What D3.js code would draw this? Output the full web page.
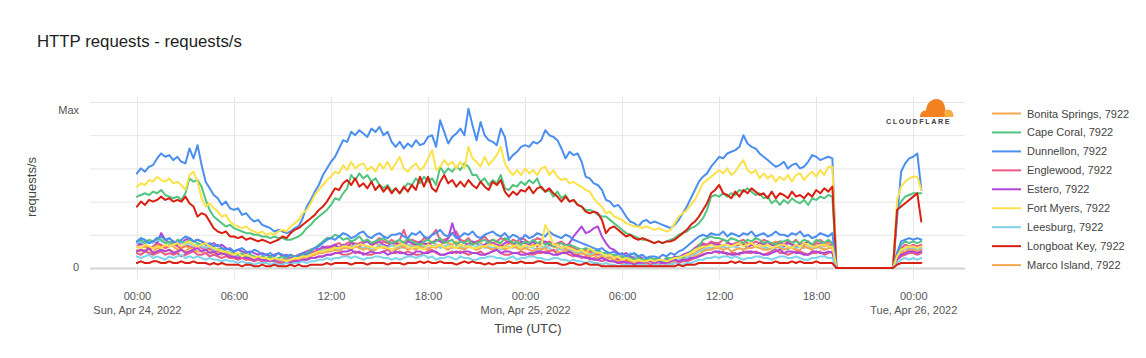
<!DOCTYPE html>
<html><head><meta charset="utf-8">
<script src="https://cdn.jsdelivr.net/npm/d3@7"></script>
<style>body{margin:0;background:#fff}svg{display:block;font-family:Arial,"Liberation Sans",Helvetica,sans-serif}</style>
</head><body><svg id="chart" width="1146" height="358"></svg>
<script>
// ---------- DATA ----------
const titleText = "HTTP requests - requests/s";
const yAxisTitle = "requests/s";
const xAxisTitle = "Time (UTC)";
const startTime = "2022-04-24T00:00:00Z";
const stepMinutes = 15;   // one sample every 15 minutes from startTime

const xTickTimes = ["2022-04-24T00:00:00Z","2022-04-24T06:00:00Z","2022-04-24T12:00:00Z","2022-04-24T18:00:00Z",
  "2022-04-25T00:00:00Z","2022-04-25T06:00:00Z","2022-04-25T12:00:00Z","2022-04-25T18:00:00Z","2022-04-26T00:00:00Z"];
const xTickLabels = ["00:00","06:00","12:00","18:00","00:00","06:00","12:00","18:00","00:00"];
const xDateLabels = ["Sun, Apr 24, 2022","","","","Mon, Apr 25, 2022","","","","Tue, Apr 26, 2022"];
const yGridValues = [0,20,40,60,80,100];
const yTickValues = [0,100];
const yTickLabels = ["0","Max"];

const seriesNames = ["Bonita Springs, 7922","Cape Coral, 7922","Dunnellon, 7922","Englewood, 7922","Estero, 7922",
  "Fort Myers, 7922","Leesburg, 7922","Longboat Key, 7922","Marco Island, 7922",
  "series 10","series 11","series 12","series 13","series 14","series 15","series 16"];
const seriesColors = ["#f8a64c","#52c47f","#4a8ff0","#ec5a86","#b046d8","#fce24a","#7fd3ea","#d91f12","#f6a64f",
  "#52c47f","#4a8ff0","#ec5a86","#b046d8","#fce24a","#7fd3ea","#d91f12"];
const legendCount = 9;

// values as % of Max, 15-minute samples from 2022-04-24 00:00 UTC
const dunnellon = [57,60,58,61,62,66,69,67,68,65,67,64,63,72,66,74,62,52,48,44,42,38,40,36,35,36,32,33,30,28,29,26,
25,24,22,23,22,21,22,24,25,30,37,41,46,50,56,60,64,67,72,77,76,82,80,83,81,79,84,82,85,80,82,76,
73,76,72,75,73,77,74,75,79,80,73,89,82,75,79,81,84,80,96,86,77,88,80,77,76,74,84,79,65,68,70,73,
74,73,76,75,77,83,80,79,77,72,66,70,68,69,64,55,54,51,50,47,41,40,37,38,35,31,28,27,25,28,29,27,
28,27,26,25,24,26,29,33,37,42,47,52,55,57,61,64,67,66,69,70,71,73,80,75,73,72,69,67,65,63,61,62,
64,60,62,63,60,61,64,68,67,65,66,67,66,0,0,0,0,0,0,0,0,0,0,0,0,0,0,0,30,58,63,66,67,69,47];
const fortMyers = [49,51,50,53,52,55,53,52,54,51,52,50,47,56,58,52,42,37,39,36,34,31,32,28,26,25,24,25,23,22,21,22,
20,21,20,22,23,22,25,27,29,33,35,39,44,47,50,53,55,58,57,62,59,64,60,62,63,59,61,58,63,60,64,59,
63,67,60,58,61,63,59,61,66,71,59,61,65,62,64,60,64,60,73,66,64,61,67,62,65,68,73,63,59,56,59,56,
60,57,59,56,60,61,56,59,55,53,54,51,52,50,49,47,46,42,39,37,33,34,31,30,29,27,26,25,25,24,25,24,
23,24,23,22,23,27,31,33,35,38,41,46,51,53,55,57,59,57,60,56,58,62,65,59,57,59,54,57,54,56,52,55,
53,56,52,56,57,53,56,58,55,59,56,61,61,0,0,0,0,0,0,0,0,0,0,0,0,0,0,0,41,49,52,54,55,55,47];
const capeCoral = [43,44,45,44,46,45,47,44,43,42,43,41,45,54,52,53,49,41,35,31,29,27,25,26,24,23,22,21,21,20,20,19,
19,18,19,18,18,17,17,18,19,21,24,26,29,31,33,35,38,42,41,45,48,56,53,57,54,56,52,54,50,48,50,46,
48,45,48,51,50,54,51,55,52,54,50,61,57,60,58,61,59,63,61,56,56,52,54,50,53,51,56,48,47,50,49,52,
50,53,51,54,48,46,47,43,46,42,44,40,41,38,37,35,35,34,32,31,31,29,27,25,23,21,20,19,18,17,17,16,
15,16,15,16,17,18,20,21,22,24,25,27,30,35,43,44,43,45,43,45,44,47,46,48,46,44,45,42,43,39,41,38,
41,39,42,40,39,41,38,42,41,43,42,44,43,0,0,0,0,0,0,0,0,0,0,0,0,0,0,0,35,40,43,44,45,45,45];
const longboatKey = [37,40,38,41,40,41,43,41,42,40,41,40,43,39,37,31,33,32,28,24,22,21,22,19,19,18,19,17,18,17,16,17,
16,15,16,17,19,18,21,23,24,26,28,30,32,35,37,40,44,48,47,51,53,50,54,49,51,48,52,47,50,46,49,45,
48,45,49,46,50,47,55,49,55,48,46,52,56,51,53,49,52,49,53,50,48,52,49,47,52,50,53,46,43,46,44,47,
46,49,45,48,49,46,48,45,43,40,43,40,41,38,37,34,33,34,33,29,21,24,25,23,21,19,20,18,17,18,17,16,
15,16,15,16,16,17,19,21,23,26,28,31,35,39,45,47,50,45,44,42,46,43,47,45,48,46,44,45,42,46,42,45,
44,42,46,43,44,42,45,43,47,45,48,46,49,0,0,0,0,0,0,0,0,0,0,0,0,0,0,0,35,37,39,41,43,45,28];

const bonitaSprings = [
13,12,13,11,12,14,13,12,14,13,11,12,13,12,13,14, 12,13,11,12,11,10,10,9,9,8,7,8,7,6,7,6,
6,5,6,5,4,5,6,5,6,7,8,9,10,11,12,11, 12,13,12,14,14,13,15,13,14,12,13,15,14,16,15,14,
14,15,16,13,14,13,15,14,15,16,14,13,16,15,14,16, 14,13,15,14,16,15,13,14,15,16,14,13,15,14,13,15,
15,13,14,15,13,12,14,13,12,11,12,10,11,10,9,10, 9,8,9,7,7,6,6,5,5,4,5,4,4,3,4,5,
4,5,3,4,5,4,6,5,6,8,9,11,12,13,14,15, 14,13,15,14,13,14,15,14,15,13,14,12,14,15,16,14,
14,16,15,13,14,13,12,14,15,14,13,15,13,0,0,0, 0,0,0,0,0,0,0,0,0,0,0,0,7,11,12,13, 13,12,13];
const englewood = [
13,15,14,12,13,15,14,12,13,15,13,12,14,13,12,14, 12,11,12,10,10,9,9,8,8,7,7,6,7,6,6,5,
6,5,6,4,5,6,5,6,7,6,8,9,10,11,12,13, 13,14,15,13,15,16,14,15,16,17,15,16,18,16,15,17,
15,17,23,16,17,16,15,18,17,20,23,16,17,18,21,22, 17,16,18,15,16,17,19,16,17,16,18,17,15,17,16,18,
17,15,16,18,17,15,16,14,15,16,14,13,12,11,10,11, 10,9,8,9,7,6,7,5,6,5,4,5,4,5,4,6,
4,5,3,5,4,6,5,7,8,10,12,14,15,14,16,15, 15,17,16,14,15,16,17,15,14,16,15,17,16,14,15,16,
14,16,15,17,14,15,16,14,15,17,15,16,15,0,0,0, 0,0,0,0,0,0,0,0,0,0,0,0,7,12,14,13, 14,13,14];
const estero = [
15,14,16,15,16,15,21,17,15,16,14,15,17,18,16,17, 16,15,14,15,13,14,12,11,10,11,10,9,10,9,8,9,
8,7,8,9,7,8,6,7,8,9,10,11,12,11,13,12, 13,14,12,14,13,15,14,13,15,16,14,15,16,14,13,15,
15,14,13,16,15,14,16,15,14,15,17,16,15,18,27,19, 16,15,14,16,15,13,14,16,15,14,13,15,16,15,14,16,
15,14,16,13,15,16,14,13,14,12,13,15,19,22,25,21, 22,24,25,19,15,12,11,9,8,9,7,6,7,6,5,6,
5,6,4,6,5,7,6,8,9,10,12,13,14,13,15,14, 14,13,15,14,13,15,14,12,14,13,15,14,16,14,13,15,
13,15,14,13,15,14,16,14,13,15,14,13,14,0,0,0, 0,0,0,0,0,0,0,0,0,0,0,0,6,10,12,11, 12,11,12];
const leesburg = [
15,16,14,16,15,17,16,15,15,14,16,15,14,15,13,14, 13,12,13,11,11,10,9,10,8,7,8,7,6,7,6,5,
5,6,4,5,5,4,5,6,5,6,7,8,8,10,11,10, 11,12,11,13,13,12,14,12,12,13,11,12,14,13,12,14,
12,13,12,14,13,12,14,13,12,13,14,12,13,14,12,13, 13,12,14,12,13,14,12,13,12,13,11,12,13,12,14,13,
12,13,12,11,12,13,12,10,11,12,10,11,10,9,10,8, 8,9,10,8,7,8,6,7,5,6,9,8,4,5,6,4,
4,5,4,3,5,4,5,6,6,7,8,10,11,12,12,13, 12,13,12,13,13,12,11,12,12,13,14,12,12,11,12,13,
12,11,13,12,13,12,14,12,12,13,11,12,12,0,0,0, 0,0,0,0,0,0,0,0,0,0,0,0,6,10,12,11, 12,11,12];
const marcoIsland = [
11,10,11,9,10,12,11,10,11,10,9,11,10,12,11,10, 10,9,10,8,9,8,9,7,7,6,7,6,6,5,6,5,
5,4,5,3,4,5,4,5,5,6,6,7,8,9,9,10, 10,11,10,12,12,11,13,12,11,12,10,11,13,12,12,11,
11,12,13,11,12,11,13,12,11,13,12,14,12,11,13,12, 12,11,13,12,11,12,13,12,11,12,13,11,12,13,12,11,
12,11,10,12,11,12,10,11,10,9,11,10,9,8,9,8, 7,8,6,7,5,6,5,4,5,4,4,3,4,3,3,4,
3,4,3,2,3,4,4,5,5,6,7,8,10,11,11,12, 12,11,12,10,11,12,11,12,12,13,12,11,11,12,13,12,
11,12,12,11,11,13,12,11,13,12,11,12,12,0,0,0, 0,0,0,0,0,0,0,0,0,0,0,0,6,9,10,11, 11,10,11];
const series10 = [
16,17,15,17,16,18,17,15,16,14,17,16,15,17,16,15, 14,15,13,12,11,12,10,9,9,8,9,7,8,7,6,7,
6,7,5,6,7,6,8,7,7,8,9,11,12,14,16,18, 18,20,19,17,18,16,17,19,16,17,15,16,17,18,16,15,
16,17,15,18,16,15,14,16,17,15,16,18,15,16,17,14, 16,15,17,14,15,16,17,15,17,16,15,18,17,15,16,14,
16,15,17,15,16,14,15,13,14,15,13,14,13,12,11,12, 11,10,11,9,9,8,8,7,7,6,6,5,6,5,5,6,
5,6,4,6,6,5,7,6,8,10,11,13,17,18,19,18, 18,17,16,18,17,16,15,17,16,18,17,15,16,15,14,16,
16,17,15,16,15,17,16,14,17,16,15,17,15,0,0,0, 0,0,0,0,0,0,0,0,0,0,0,0,9,14,16,15, 16,15,16];
const series11 = [
16,18,17,15,16,18,19,17,18,16,15,17,19,18,16,17, 16,14,15,13,14,12,11,12,10,11,12,10,9,11,10,8,
8,9,7,9,8,7,8,6,7,9,8,10,12,13,15,17, 18,17,19,21,20,18,19,21,22,19,18,20,21,19,18,20,
20,21,19,18,21,20,22,19,18,20,21,23,20,19,21,18, 19,21,20,22,19,18,20,21,22,20,19,21,18,20,19,17,
20,18,19,21,20,19,22,20,19,18,20,19,17,16,15,14, 13,12,11,12,10,9,10,8,9,7,8,9,7,8,6,7,
7,6,8,7,9,8,10,11,13,15,17,19,20,19,21,20, 20,22,19,21,20,19,21,20,22,19,20,21,19,20,22,20,
20,19,21,20,22,19,20,18,19,21,20,19,21,0,0,0, 0,0,0,0,0,0,0,0,0,0,0,0,9,16,17,18, 17,18,17];
const series12 = [
9,8,10,9,8,9,10,8,9,8,9,7,8,9,10,8, 8,9,7,8,7,6,7,6,6,5,6,5,5,4,5,4,
4,5,4,3,3,4,3,4,4,5,5,6,6,7,7,8, 8,9,9,8,8,9,10,9,9,8,8,9,9,10,11,9,
9,10,9,10,9,8,8,9,10,11,9,8,8,9,10,9, 10,9,8,9,9,10,8,9,10,11,9,8,8,9,9,10,
9,8,8,9,9,10,10,11,8,9,9,8,7,8,6,7, 5,6,5,4,5,4,4,3,3,4,3,2,3,3,3,2,
3,2,3,2,2,3,3,4,4,5,6,7,8,9,9,10, 9,10,8,9,9,8,10,9,9,10,9,8,9,10,11,9,
9,8,9,10,10,9,8,9,9,10,8,9,10,0,0,0, 0,0,0,0,0,0,0,0,0,0,0,0,5,7,8,9, 9,8,9];
const series13 = [
10,11,10,12,9,10,11,10,11,9,10,11,9,10,11,12, 10,11,9,10,8,9,8,7,7,6,7,6,6,5,6,5,
5,4,5,4,5,3,4,4,4,5,5,6,6,7,7,8, 8,9,9,10,10,11,9,10,8,9,10,9,9,10,8,9,
10,9,9,8,8,10,10,9,9,10,10,8,8,9,9,10, 9,10,10,9,9,8,8,9,10,11,9,10,10,9,9,8,
8,9,9,10,10,9,9,8,8,9,9,10,8,7,7,6, 6,5,5,6,5,4,4,3,4,3,3,2,3,3,4,4,
3,4,3,3,4,5,4,5,5,6,6,7,8,9,9,10, 10,9,9,8,8,9,9,10,10,9,9,8,8,9,10,11,
9,10,10,9,9,8,8,10,10,9,9,10,9,0,0,0, 0,0,0,0,0,0,0,0,0,0,0,0,5,8,9,10, 10,9,10];
const series14 = [
13,12,14,13,12,13,12,14,13,14,15,13,15,16,14,13, 14,15,13,12,11,10,10,9,8,9,7,8,7,6,7,6,
6,5,6,5,5,4,5,6,6,7,7,8,9,10,10,11, 11,12,12,13,13,12,13,14,14,13,13,12,12,13,12,11,
13,14,14,13,12,13,12,11,14,13,13,14,12,13,13,12, 14,13,13,12,12,13,13,14,14,13,12,13,12,13,14,12,
14,13,13,14,13,26,21,14,14,12,13,12,11,10,11,9, 12,10,9,9,7,8,6,7,5,6,5,4,5,4,4,5,
4,5,5,4,5,6,6,7,8,9,11,12,13,13,14,13, 13,14,14,13,14,15,13,14,15,13,14,13,14,12,13,14,
14,13,12,14,13,15,14,13,13,14,14,13,13,0,0,0, 0,0,0,0,0,0,0,0,0,0,0,0,7,11,12,13, 13,12,13];
const series15 = [
7,6,7,8,6,7,6,5,7,6,7,8,6,7,6,7, 6,5,6,5,5,4,5,4,4,3,4,3,3,2,3,3,
3,2,3,2,2,3,2,3,3,4,3,4,4,5,5,6, 5,6,6,7,7,6,7,6,5,6,6,7,7,6,6,5,
6,5,6,7,7,6,7,8,6,7,5,6,6,7,6,5, 7,6,6,5,5,6,6,7,7,6,6,5,6,7,5,6,
6,7,7,6,6,5,5,6,6,5,5,4,5,4,4,3, 4,3,3,2,3,2,2,1,2,2,2,1,2,2,2,1,
2,2,1,2,2,3,2,2,3,3,4,5,5,6,6,7, 6,7,7,6,7,6,5,6,6,7,7,6,6,5,6,7,
7,6,6,7,6,5,5,6,6,7,7,6,6,0,0,0, 0,0,0,0,0,0,0,0,0,0,0,0,3,5,6,5, 6,5,6];
const series16 = [
3,4,3,3,4,4,3,3,4,3,3,4,3,3,4,3, 3,3,2,3,2,3,2,2,2,2,1,2,2,1,1,2,
1,1,2,1,1,1,2,1,2,1,1,2,2,2,2,3, 2,3,3,3,3,2,3,3,3,2,3,3,3,3,2,3,
3,3,2,3,3,3,4,3,4,3,3,4,3,3,3,2, 3,4,3,4,3,3,2,3,2,3,3,3,4,3,3,4,
3,3,3,4,4,3,3,3,3,2,2,3,3,2,2,3, 2,2,2,1,1,1,1,1,1,1,1,1,1,1,1,1,
1,1,1,1,1,1,2,1,2,2,2,3,3,3,3,3, 3,3,3,4,3,4,3,3,3,3,4,3,3,3,4,3,
3,3,4,3,4,3,3,3,4,3,3,3,3,0,0,0, 0,0,0,0,0,0,0,0,0,0,0,0,2,3,3,3, 3,3,3];

const seriesValues = [bonitaSprings, capeCoral, dunnellon, englewood, estero, fortMyers, leesburg, longboatKey,
  marcoIsland, series10, series11, series12, series13, series14, series15, series16];

// ---------- CHART ----------
const svg = d3.select("#chart");
const t0 = new Date(startTime);
const H = 3600e3;
const x = d3.scaleUtc().domain([new Date(+t0 - 2.9 * H), new Date(+t0 + 51.2 * H)]).range([90, 965]);
const y = d3.scaleLinear().domain([0, 100]).range([268, 102]);

svg.append("rect").attr("width", 1146).attr("height", 358).attr("fill", "#fff");
svg.append("text").attr("x", 37).attr("y", 47).attr("font-size", 16.8).attr("fill", "#222").text(titleText);

// grid
const grid = svg.append("g");
grid.selectAll("line.h").data(yGridValues).join("line")
  .attr("x1", 90).attr("x2", 965).attr("y1", d => y(d) + 0.5).attr("y2", d => y(d) + 0.5)
  .attr("stroke", d => d === 0 ? "#d4d4d4" : "#e6e6e6").attr("stroke-width", d => d === 0 ? 2 : 1);
grid.selectAll("line.v").data(xTickTimes).join("line")
  .attr("x1", d => Math.round(x(new Date(d))) + 0.5).attr("x2", d => Math.round(x(new Date(d))) + 0.5)
  .attr("y1", 97).attr("y2", 279).attr("stroke", "#e6e6e6");

// logo
const logo = svg.append("g");
logo.append("path").attr("fill", "#f48120")
  .attr("d", "M920,117 C920,113 922,110.5 926,110.5 C926.5,104 930.5,99 936.5,99 C941.5,99 944.5,103 945,107.5 L946.5,117 Z");
logo.append("path").attr("fill", "#faad3f")
  .attr("d", "M944.5,117 L953.5,117 C953.5,112.5 951.5,109.5 948.5,109.5 C946.5,109.5 945,110.5 944.5,111.5 Z");
logo.append("text").attr("x", 886).attr("y", 124).attr("font-size", 7.2).attr("font-weight", "bold")
  .attr("letter-spacing", 1.55).attr("fill", "#404041").text("CLOUDFLARE");

// lines
const line = d3.line()
  .x((d, i) => x(new Date(+t0 + i * stepMinutes * 60e3)))
  .y(d => y(d));
svg.append("g").selectAll("path").data(seriesValues).join("path")
  .attr("fill", "none").attr("stroke", (d, i) => seriesColors[i]).attr("stroke-width", 2)
  .attr("stroke-linejoin", "round").attr("stroke-linecap", "round")
  .attr("d", d => line(d));

// x axis
const xAxis = svg.append("g").attr("transform", "translate(0,300)")
  .call(d3.axisBottom(x).tickValues(xTickTimes.map(d => new Date(d))).tickSize(0).tickFormat((d, i) => xTickLabels[i]));
xAxis.select(".domain").remove();
xAxis.selectAll(".tick text").each(function (d, i) {
  const t = d3.select(this).attr("y", 0).attr("dy", 0).attr("font-size", 11).attr("fill", "#555")
    .attr("font-family", null).text(null);
  t.append("tspan").attr("x", 0).attr("dy", 0).text(xTickLabels[i]);
  if (xDateLabels[i]) t.append("tspan").attr("x", 0).attr("dy", 14).text(xDateLabels[i]);
});

// y axis
const yAxis = svg.append("g").attr("transform", "translate(82,0)")
  .call(d3.axisLeft(y).tickValues(yTickValues).tickSize(0).tickFormat((d, i) => yTickLabels[i]));
yAxis.select(".domain").remove();
yAxis.selectAll(".tick text").attr("font-size", 11).attr("fill", "#555").attr("font-family", null)
  .attr("dy", d => d === 100 ? "1.05em" : "0.2em");

svg.append("text").attr("x", 528).attr("y", 333).attr("text-anchor", "middle")
  .attr("font-size", 13).attr("fill", "#444").text(xAxisTitle);
svg.append("text").attr("transform", "translate(36,187) rotate(-90)").attr("text-anchor", "middle")
  .attr("font-size", 13).attr("fill", "#444").text(yAxisTitle);

// legend
const legend = svg.append("g").selectAll("g").data(seriesNames.slice(0, legendCount)).join("g")
  .attr("transform", (d, i) => `translate(0,${113.5 + i * 18.95})`);
legend.append("line").attr("x1", 992).attr("x2", 1021).attr("stroke", (d, i) => seriesColors[i]).attr("stroke-width", 2);
legend.append("text").attr("x", 1027).attr("y", 4).attr("font-size", 11).attr("fill", "#444").text(d => d);
</script>
</body></html>
